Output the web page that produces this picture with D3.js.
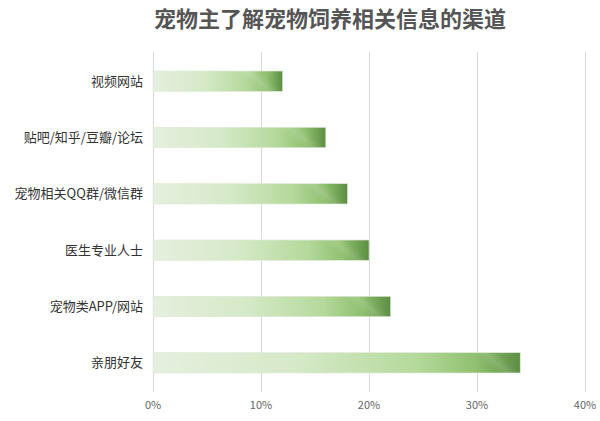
<!DOCTYPE html>
<html><head><meta charset="utf-8">
<script src="https://cdn.jsdelivr.net/npm/d3@7"></script>
<style>body{margin:0;background:#fff;}svg{display:block;}</style>
</head><body>
<svg id="c" width="600" height="421"></svg>
<script>
const title = "宠物主了解宠物饲养相关信息的渠道";
const categories = ["视频网站","贴吧/知乎/豆瓣/论坛","宠物相关QQ群/微信群","医生专业人士","宠物类APP/网站","亲朋好友"];
const values = [12,16,18,20,22,34];
const ticks = [0,10,20,30,40];

const svg = d3.select("#c");
const x = d3.scaleLinear().domain([0,40]).range([153,585]);
const y = d3.scaleBand().domain(categories).range([53,391]).paddingInner(0.64).paddingOuter(0.32);

const defs = svg.append("defs");
const g1 = defs.append("linearGradient").attr("id","barGrad").attr("x1","0").attr("x2","1").attr("y1","0").attr("y2","0");
[[0,"#e6efdf"],[0.4,"#d5e9c7"],[0.72,"#b4d99b"],[0.88,"#90c070"],[1,"#5b8e43"]].forEach(s=>g1.append("stop").attr("offset",s[0]).attr("stop-color",s[1]));

values.forEach((v,i)=>{
  const x1 = x(v), yt = y(categories[i]), yb = yt + y.bandwidth();
  const g = defs.append("linearGradient").attr("id","shine"+i).attr("gradientUnits","userSpaceOnUse")
    .attr("x1",x1-40).attr("y1",yb).attr("x2",x1-16).attr("y2",yt-8);
  [[0,0],[0.3,0],[0.5,0.12],[0.7,0],[1,0]].forEach(s=>g.append("stop").attr("offset",s[0]).attr("stop-color","#ffffff").attr("stop-opacity",s[1]));
});

svg.append("text").attr("x",330).attr("y",27).attr("text-anchor","middle")
  .attr("font-family","'Noto Sans CJK SC',sans-serif").attr("font-weight","bold")
  .attr("font-size",22).attr("fill","#555").text(title);

svg.append("g").selectAll("line").data(ticks).join("line")
  .attr("x1",d=>x(d)+0.5).attr("x2",d=>x(d)+0.5).attr("y1",52).attr("y2",392)
  .attr("stroke","#d9d9d9").attr("stroke-width",1);

svg.append("g").selectAll("text").data(ticks).join("text")
  .attr("x",d=>x(d)).attr("y",409).attr("text-anchor","middle")
  .attr("font-family","'Noto Sans CJK SC',sans-serif").attr("font-size",11).attr("fill","#666")
  .text(d=>d+"%");

const bars = svg.append("g");
bars.selectAll("rect.b").data(values).join("rect").attr("class","b")
  .attr("x",x(0)).attr("y",(d,i)=>y(categories[i])).attr("width",d=>x(d)-x(0)).attr("height",y.bandwidth())
  .attr("fill","url(#barGrad)").attr("stroke","#dce8d3").attr("stroke-width",0.6);
bars.selectAll("rect.s").data(values).join("rect").attr("class","s")
  .attr("x",x(0)).attr("y",(d,i)=>y(categories[i])).attr("width",d=>x(d)-x(0)).attr("height",y.bandwidth())
  .attr("fill",(d,i)=>"url(#shine"+i+")");

svg.append("g").selectAll("text").data(categories).join("text")
  .attr("x",143).attr("y",d=>y(d)+y.bandwidth()/2).attr("dy","0.35em").attr("text-anchor","end")
  .attr("font-family","'Noto Sans CJK SC',sans-serif").attr("font-size",13).attr("fill","#333")
  .text(d=>d);
</script>
</body></html>
